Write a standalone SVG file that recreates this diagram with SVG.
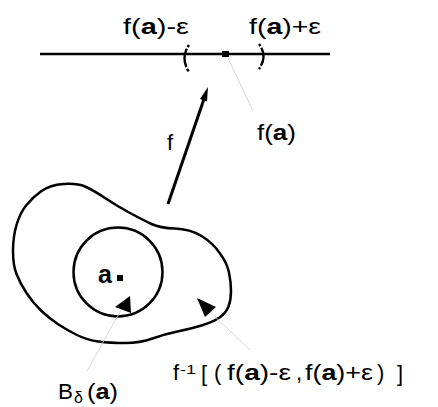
<svg xmlns="http://www.w3.org/2000/svg" width="438" height="407" viewBox="0 0 438 407">
<style>
text{font-family:"Liberation Sans",Arial,sans-serif;font-size:22px;fill:#000}
.b{font-weight:bold}
.sm{font-size:13px}
.thick{fill:none;stroke:#000;stroke-width:2.5;stroke-linejoin:round;stroke-linecap:round}
.par{fill:none;stroke:#000;stroke-width:2.4;stroke-dasharray:2.5 1.8 19 1.8 3}
.lead{fill:none;stroke:#cccccc;stroke-width:0.8}
</style>
<rect width="438" height="407" fill="#fff"/>
<g id="number-line">
<line x1="40" y1="54" x2="330" y2="54" stroke="#000" stroke-width="2.5"/>
<path class="par" d="M189,45 Q180,58 189,72"/>
<path class="par" d="M259,44 Q268,56 259,69"/>
<rect x="222" y="51" width="7" height="6" fill="#000"/>
<text x="123" y="34" textLength="66" lengthAdjust="spacingAndGlyphs">f(<tspan class="b">a</tspan>)-ε</text>
<text x="249" y="34" textLength="72" lengthAdjust="spacingAndGlyphs">f(<tspan class="b">a</tspan>)+ε</text>
<text x="257" y="140" textLength="39" lengthAdjust="spacingAndGlyphs">f(<tspan class="b">a</tspan>)</text>
</g>
<g id="preimage">
<path class="thick" d="M63.5,184 Q77,183 85,186.5 Q93,190 105,198 Q117,206 130,213 Q143,220 151.5,224 Q160,228 175,228.5 Q190,229 201.5,236 Q213,243 220,253.5 Q227,263 229,272.5 Q231,282 231,291 Q231,300 228.5,306.5 Q226,313 219.5,317.5 Q213,322 201.5,325.5 Q190,329 177.5,331.5 Q165,334 152.5,338.5 Q140,343 125,343 Q110,343 98.5,341.5 Q87,340 77,335 Q67,330 58.5,324.5 Q50,319 41.5,311 Q33,303 26.5,293 Q20,283 16.5,274 Q13,265 13,251 Q13,237 16.5,225 Q20,213 26.5,205 Q33,197 41.5,191 Q50,185 63.5,184 Z"/>
</g>
<g id="ball">
<circle cx="118" cy="272" r="44.5" class="thick"/>
<text x="98" y="283" class="b" style="font-size:25px">a</text>
<rect x="117" y="275" width="6" height="6" fill="#000"/>
</g>
<g id="connectors">
<line x1="168" y1="204" x2="204" y2="99" stroke="#000" stroke-width="3"/>
<polygon points="208,87 207,101.5 200,99" fill="#000"/>
<line class="lead" x1="228" y1="58" x2="253" y2="111"/>
<line class="lead" x1="121" y1="310" x2="87" y2="371"/>
<line class="lead" x1="209" y1="311" x2="250" y2="350"/>
<polygon points="130,296 115,307 131,313" fill="#000"/>
<polygon points="197,298 216,307 205,317" fill="#000"/>
</g>
<g id="labels">
<text x="167" y="150">f</text>
<text x="173" y="380">f</text>
<text x="180" y="374" class="sm" textLength="16" lengthAdjust="spacingAndGlyphs">-1</text>
<text x="201" y="381">[</text>
<text x="214" y="380">(</text>
<text x="227" y="380" textLength="64" lengthAdjust="spacingAndGlyphs">f(<tspan class="b">a</tspan>)-ε</text>
<text x="296" y="380">,</text>
<text x="305" y="380" textLength="68" lengthAdjust="spacingAndGlyphs">f(<tspan class="b">a</tspan>)+ε</text>
<text x="377" y="380">)</text>
<text x="397" y="381">]</text>
<text x="58" y="399" textLength="15" lengthAdjust="spacingAndGlyphs">B</text>
<text x="74" y="403" style="font-size:16px">δ</text>
<text x="87" y="399" textLength="31" lengthAdjust="spacingAndGlyphs">(<tspan class="b">a</tspan>)</text>
</g>
</svg>
